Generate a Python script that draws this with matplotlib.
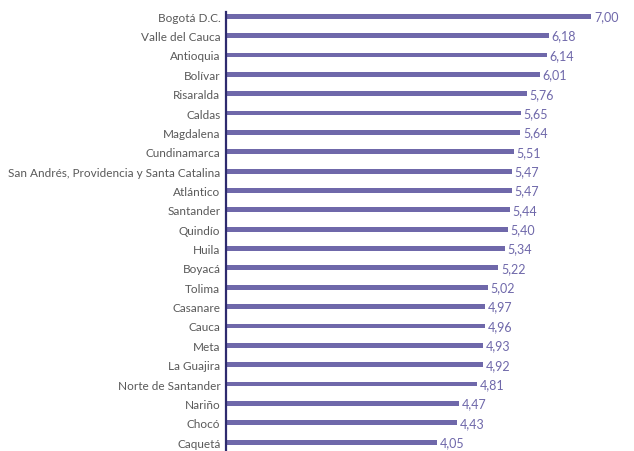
import matplotlib
matplotlib.use("Agg")
import matplotlib.pyplot as plt

departments = ["Bogotá D.C.", "Valle del Cauca", "Antioquia", "Bolívar", "Risaralda",
               "Caldas", "Magdalena", "Cundinamarca",
               "San Andrés, Providencia y Santa Catalina", "Atlántico", "Santander",
               "Quindío", "Huila", "Boyacá", "Tolima", "Casanare", "Cauca", "Meta",
               "La Guajira", "Norte de Santander", "Nariño", "Chocó", "Caquetá"]
values = [7.00, 6.18, 6.14, 6.01, 5.76, 5.65, 5.64, 5.51, 5.47, 5.47, 5.44, 5.40,
          5.34, 5.22, 5.02, 4.97, 4.96, 4.93, 4.92, 4.81, 4.47, 4.43, 4.05]

plt.rcParams['font.family'] = ['Lato', 'DejaVu Sans']
W, H = 634, 452
fig = plt.figure(figsize=(W / 100, H / 100), dpi=100)
ax = fig.add_axes([226 / W, 0, (W - 226) / W, (H - 13) / H])

bar_color = "#6F68AA"
ypos = list(range(len(departments)))
ax.barh(ypos, values, height=0.25, color=bar_color)
for y, v in zip(ypos, values):
    ax.text(v + 0.05, y, f"{v:.2f}".replace(".", ","), va="center", ha="left",
            fontsize=9, color=bar_color)

ax.set_xlim(0, (W - 226) / 52.2)
ax.set_ylim(22.46, -0.22)
ax.set_yticks(ypos)
ax.set_yticklabels(departments, fontsize=8.5, color="#595959")
ax.tick_params(axis="y", length=0, pad=4)
ax.set_xticks([])
for s in ["top", "right", "bottom"]:
    ax.spines[s].set_visible(False)
ax.spines["left"].set_color("#2E2B6E")
ax.spines["left"].set_linewidth(1.6)

fig.savefig("out.png", dpi=100)
